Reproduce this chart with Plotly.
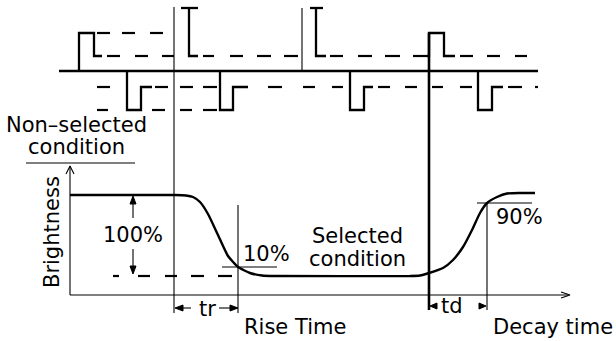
import plotly.graph_objects as go

# ---------------- Drive waveforms (top) ----------------
# baseline of the drive signals
baseline_x = [59, 538]
baseline_y = [71, 71]

# solid (thick) waveform polylines: list of (xs, ys)
wave_solid = [
    ([79, 79, 94, 94, 102], [71, 33, 33, 56, 56]),            # upper pulse 1
    ([181, 198], [8, 8]),                                      # upper pulse 2 top
    ([189, 189, 198], [8, 56, 56]),                            # upper pulse 2 body
    ([310, 323], [8, 8]),                                      # upper pulse 3 top
    ([316, 316, 326], [8, 56, 56]),                            # upper pulse 3 body
    ([427, 429, 429, 444, 444, 455], [56, 56, 33, 33, 56, 56]),  # upper pulse 4
    ([127, 127, 141, 141, 152], [71, 110, 110, 87, 87]),       # lower pulse 1
    ([220, 220, 233, 233, 248], [71, 110, 110, 87, 87]),       # lower pulse 2
    ([350, 350, 364, 364, 373], [71, 110, 110, 87, 87]),       # lower pulse 3
    ([478, 478, 492, 492, 503], [71, 110, 110, 87, 87]),       # lower pulse 4
]

# dashed levels: (level, [(x_start, x_end), ...])
dash_levels = [
    (33, [(97, 110), (122, 135), (150, 163)]),
    (56, [(107, 120), (135, 148), (162, 174), (203, 214), (230, 243), (257, 271),
          (284, 298), (330, 343), (358, 372), (385, 400), (413, 427),
          (460, 473), (487, 500), (515, 527)]),
    (87, [(97, 110), (155, 168), (180, 193), (203, 217), (268, 282), (303, 315),
          (332, 343), (378, 390), (405, 417), (432, 443), (460, 472),
          (508, 522), (535, 538)]),
    (110, [(97, 108), (152, 165), (180, 192), (203, 217)]),
    (276, [(113, 119), (138, 150), (165, 177), (191, 204), (218, 232)]),
]

# thick vertical marker of selection change
thick_marker_x = [429, 429]
thick_marker_y = [33, 310]

# thin guide lines
thin_lines = [
    ([174, 174], [7, 313]),     # start of selection
    ([302, 302], [8, 71]),
    ([70, 70], [295, 166]),     # brightness axis
    ([70, 569], [295, 295]),    # time axis
    ([26, 135], [163, 163]),    # underline non-selected
    ([133, 133], [197, 218]),   # 100% arrow upper
    ([133, 133], [249, 272]),   # 100% arrow lower
    ([238, 238], [205, 313]),   # 10% vertical
    ([222, 277], [267, 267]),   # 10% tick
    ([477, 532], [203, 203]),   # 90% tick
    ([487, 487], [203, 310]),   # 90% vertical
    ([177, 191], [308, 308]),   # tr arrow left
    ([219, 236], [308, 308]),   # tr arrow right
    ([66, 70, 74], [174, 166, 174]),     # y-axis arrowhead
    ([561, 570, 561], [292, 295, 298]),  # x-axis arrowhead
]

# filled arrowheads (triangles)
arrowheads = [
    ([133, 130, 136, 133], [196, 204, 204, 196]),
    ([133, 130, 136, 133], [274, 266, 266, 274]),
    ([175, 183, 183, 175], [308, 305, 311, 308]),
    ([238, 230, 230, 238], [308, 305, 311, 308]),
    ([430, 437, 437, 430], [306, 303, 309, 306]),
    ([486, 479, 479, 486], [306, 303, 309, 306]),
]

# ---------------- Brightness response curve ----------------
curve_x = [70, 175, 186, 193, 200, 208, 218, 228, 238, 250, 262, 275, 410, 420,
           429, 443, 453, 463, 472, 480, 487, 497, 507, 520, 535]
curve_y = [195, 195, 195.5, 197, 202, 214, 235, 256, 267, 273, 275.5, 276, 276,
           275.5, 273, 268, 260, 247, 230, 213, 203, 197, 193.5, 193, 193]

# ---------------- Labels ----------------
labels = [
    ("Non\u2013selected", 76, 125, 0),
    ("condition", 76, 147, 0),
    ("Brightness", 52, 232, -90),
    ("100%", 133, 235, 0),
    ("10%", 266, 254, 0),
    ("Selected", 357, 236, 0),
    ("condition", 357, 259, 0),
    ("90%", 519, 217, 0),
    ("tr", 207, 309, 0),
    ("td", 452, 306, 0),
    ("Rise Time", 295, 327, 0),
    ("Decay time", 553, 327, 0),
]


def join(polys):
    xs, ys = [], []
    for px, py in polys:
        xs += list(px) + [None]
        ys += list(py) + [None]
    return xs, ys


fig = go.Figure()

# thin lines
tx, ty = join(thin_lines)
fig.add_trace(go.Scatter(x=tx, y=ty, mode="lines",
                         line=dict(color="black", width=1.1), hoverinfo="skip"))

# dashed levels (drawn as explicit dashes)
dpolys = []
for lvl, segs in dash_levels:
    for a, b in segs:
        dpolys.append(([a, b], [lvl, lvl]))
dx, dy = join(dpolys)
fig.add_trace(go.Scatter(x=dx, y=dy, mode="lines",
                         line=dict(color="black", width=2.2), hoverinfo="skip"))

# baseline
fig.add_trace(go.Scatter(x=baseline_x, y=baseline_y, mode="lines",
                         line=dict(color="black", width=2.4), hoverinfo="skip"))

# solid waveform pulses
wx, wy = join(wave_solid)
fig.add_trace(go.Scatter(x=wx, y=wy, mode="lines",
                         line=dict(color="black", width=2.3), hoverinfo="skip"))

# thick marker
fig.add_trace(go.Scatter(x=thick_marker_x, y=thick_marker_y, mode="lines",
                         line=dict(color="black", width=2.6), hoverinfo="skip"))

# arrowheads
for ax_, ay_ in arrowheads:
    fig.add_trace(go.Scatter(x=ax_, y=ay_, mode="lines", fill="toself",
                             fillcolor="black", line=dict(color="black", width=1),
                             hoverinfo="skip"))

# brightness curve
fig.add_trace(go.Scatter(x=curve_x, y=curve_y, mode="lines",
                         line=dict(color="black", width=2.4, shape="spline",
                                   smoothing=0.5),
                         hoverinfo="skip"))

for text, x, y, rot in labels:
    fig.add_annotation(x=x, y=y, text=text, showarrow=False, textangle=rot,
                       xanchor="center", yanchor="middle",
                       font=dict(family="DejaVu Sans", size=21, color="black"),
                       bgcolor="rgba(0,0,0,0)")

fig.update_layout(
    width=616, height=341,
    margin=dict(l=0, r=0, t=0, b=0),
    paper_bgcolor="white", plot_bgcolor="white",
    showlegend=False,
    xaxis=dict(range=[0, 616], visible=False, fixedrange=True),
    yaxis=dict(range=[341, 0], visible=False, fixedrange=True),
)

fig.write_html("out.html", config={"displayModeBar": False},
               post_script="document.body.style.margin='0';"
                           "document.body.style.overflow='hidden';")
